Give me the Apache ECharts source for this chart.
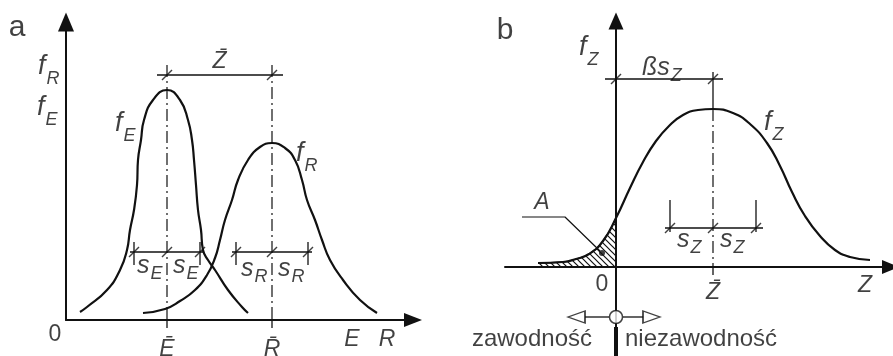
<!DOCTYPE html>
<html>
<head>
<meta charset="utf-8">
<script src="https://cdn.jsdelivr.net/npm/echarts@6/dist/echarts.min.js"></script>
<style>
  html, body { margin: 0; padding: 0; background: #fff; }
  #chart { width: 893px; height: 356px; }
</style>
</head>
<body>
<div id="chart"></div>
<script>
// ---------------- data ----------------
// Panel a: densities of load effect E and resistance R (arbitrary units)
const fE = [[14,8],[21,13],[41,30],[54,50],[61,70],[64,90],[68,110],[71,135],[72,160],[75,180],[78,200],[87,220],
            [101,230],[114,220],[122,200],[126,180],[128,160],[130,135],[132,110],[135,90],[137,70],[142,60],[149,50],[162,30],[176,13],[182,7]];
const fR = [[77,7],[99,11],[114,19],[129,30],[141,45],[149,62],[154,80],[159,100],[166,120],[172,140],[182,160],[194,173],
            [206,177],[219,172],[229,160],[236,140],[241,120],[249,100],[256,80],[264,60],[277,40],[294,20],[311,7]];
const meanE = 101, sdE = 33;
const meanR = 206, sdR = 36;

// Panel b: density of the safety margin Z = R - E
const fZ = [[-78,4],[-53,5],[-40,8],[-27,13],[-13,26],[0,49],[14,79],[27,105],[40,126],[53,141],[67,152],[82,157],
            [97,158],[117,154],[134,143],[151,124],[164,101],[176,75],[189,51],[204,31],[219,17],[234,10],[254,7]];
const meanZ = 97, sdZ = 43;

// ---------------- styling ----------------
const INK = '#111';
const FONT = '"Liberation Sans", Arial, Helvetica, sans-serif';
const DASHDOT = [12, 4, 2, 4];
const SMOOTH = 0.5;

const rich = {
  f:   { fontFamily: FONT, fontStyle: 'italic', fontSize: 27, color: INK },
  sub: { fontFamily: FONT, fontStyle: 'italic', fontSize: 18, color: INK, padding: [26, 0, 0, 1] },
  s:   { fontFamily: FONT, fontStyle: 'italic', fontSize: 25, color: INK },
  sub2:{ fontFamily: FONT, fontStyle: 'italic', fontSize: 18, color: INK, padding: [16, 0, 0, 1] },
  it:  { fontFamily: FONT, fontStyle: 'italic', fontSize: 23, color: INK },
  num: { fontFamily: FONT, fontSize: 23, color: INK },
  up:  { fontFamily: FONT, fontSize: 30, color: INK },
  w:   { fontFamily: FONT, fontSize: 24, color: INK }
};

const series = [];

function line(g, pts, o = {}) {
  const s = {
    type: 'line', xAxisIndex: g, yAxisIndex: g, data: pts,
    symbol: 'none', silent: true, clip: false, z: o.z || 3,
    smooth: o.smooth || false,
    lineStyle: { color: INK, width: o.w || 1.3, type: o.type || 'solid' }
  };
  if (o.area) s.areaStyle = o.area;
  series.push(s);
}

function slashes(g, pts) {
  series.push({
    type: 'scatter', xAxisIndex: g, yAxisIndex: g, data: pts, silent: true, clip: false, z: 4,
    symbol: 'path://M0,12L12,0', symbolSize: 10,
    itemStyle: { color: 'transparent', borderColor: INK, borderWidth: 1.4 }
  });
}

function notes(g, items) {
  series.push({
    type: 'scatter', xAxisIndex: g, yAxisIndex: g, silent: true, clip: false, z: 6,
    symbolSize: 1, itemStyle: { color: 'transparent' },
    label: { show: true, position: 'inside', verticalAlign: 'middle', rich, color: INK },
    data: items.map(([x, y, text, align]) => ({
      value: [x, y], label: { formatter: text, align: align || 'center' }
    }))
  });
}

// hatch pattern for the failure area
const hatch = document.createElement('canvas');
hatch.width = hatch.height = 6;
const hg = hatch.getContext('2d');
hg.strokeStyle = INK; hg.lineWidth = 1.2;
hg.beginPath();
hg.moveTo(-1, -1); hg.lineTo(7, 7);
hg.moveTo(5, -1); hg.lineTo(7, 1);
hg.moveTo(-1, 5); hg.lineTo(1, 7);
hg.stroke();

// ---------------- panel a ----------------
line(0, fE, { smooth: SMOOTH, w: 2.2 });
line(0, fR, { smooth: SMOOTH, w: 2.2 });
[meanE, meanR].forEach(m => {
  line(0, [[m, 255], [m, 0]], { type: DASHDOT, w: 1.2 });
  line(0, [[m, 0], [m, -8]], { w: 1.3 });
});
// mean distance
line(0, [[meanE - 10, 245], [meanR + 11, 245]]);
slashes(0, [[meanE, 245], [meanR, 245]]);
// standard deviations
[[meanE, sdE], [meanR, sdR]].forEach(([m, sd]) => {
  line(0, [[m - sd - 4, 68], [m + sd + 4, 68]]);
  line(0, [[m - sd, 78], [m - sd, 55]]);
  line(0, [[m + sd, 78], [m + sd, 55]]);
  slashes(0, [[m - sd, 68], [m, 68], [m + sd, 68]]);
});
notes(0, [
  [-49, 292, '{up|a}'],
  [-28, 254, '{f|f}{sub|R}', 'left'],
  [-29, 213, '{f|f}{sub|E}', 'left'],
  [49, 197, '{f|f}{sub|E}', 'left'],
  [230, 167, '{f|f}{sub|R}', 'left'],
  [(meanE + meanR) / 2, 258, '{it|Z\u0304}'],
  [meanE - 30, 54, '{s|s}{sub2|E}', 'left'],
  [meanE + 6, 54, '{s|s}{sub2|E}', 'left'],
  [meanR - 31, 51, '{s|s}{sub2|R}', 'left'],
  [meanR + 6, 51, '{s|s}{sub2|R}', 'left'],
  [-11, -15, '{num|0}'],
  [meanE, -30, '{it|\u0112}'],
  [meanR, -30, '{it|R\u0304}'],
  [286, -20, '{it|E}'],
  [321, -20, '{it|R}']
]);

// ---------------- panel b ----------------
line(1, fZ.filter(p => p[0] <= 0), {
  smooth: SMOOTH, w: 0, z: 2,
  area: { color: { image: hatch, repeat: 'repeat' }, opacity: 1 }
});
line(1, fZ, { smooth: SMOOTH, w: 2.2 });
const peakZ = Math.max(...fZ.map(p => p[1]));
line(1, [[meanZ, 195], [meanZ, peakZ]], { w: 1.3 });
line(1, [[meanZ, peakZ], [meanZ, 0]], { type: DASHDOT, w: 1.2 });
line(1, [[meanZ, 0], [meanZ, -8]], { w: 1.3 });
// reliability index times sd
line(1, [[-11, 188], [meanZ + 10, 188]]);
slashes(1, [[0, 188], [meanZ, 188]]);
// standard deviation of Z
line(1, [[meanZ - sdZ - 5, 39], [meanZ + sdZ + 7, 39]]);
line(1, [[meanZ - sdZ, 67], [meanZ - sdZ, 35]]);
line(1, [[meanZ + sdZ, 67], [meanZ + sdZ, 35]]);
slashes(1, [[meanZ - sdZ, 39], [meanZ, 39], [meanZ + sdZ, 39]]);
// leader to the failure area
line(1, [[-94, 50], [-51, 50], [-16, 16]], { w: 1.2 });
series.push({
  type: 'scatter', xAxisIndex: 1, yAxisIndex: 1, silent: true, z: 5,
  data: [[-14, 14]], symbolSize: 6, itemStyle: { color: INK }
});
// limit state marker below the axis
line(1, [[0, -60], [0, -89]], { w: 4 });
line(1, [[-7, -50], [-31, -50]], { w: 1.3 });
line(1, [[7, -50], [28, -50]], { w: 1.3 });
series.push({
  type: 'scatter', xAxisIndex: 1, yAxisIndex: 1, silent: true, z: 5,
  data: [
    { value: [0, -50], symbol: 'circle', symbolSize: 13 },
    { value: [-39.5, -50], symbol: 'triangle', symbolSize: [12, 17], symbolRotate: 90 },
    { value: [35.5, -50], symbol: 'triangle', symbolSize: [12, 17], symbolRotate: -90 }
  ],
  itemStyle: { color: '#fff', borderColor: INK, borderWidth: 1.5 }
});
notes(1, [
  [-111, 236, '{up|b}'],
  [-37, 220, '{f|f}{sub|Z}', 'left'],
  [26, 199, '{s|ßs}{sub2|Z}', 'left'],
  [148, 145, '{f|f}{sub|Z}', 'left'],
  [meanZ - 36, 27, '{s|s}{sub2|Z}', 'left'],
  [meanZ + 7, 27, '{s|s}{sub2|Z}', 'left'],
  [-74, 64, '{it|A}'],
  [-14, -18, '{num|0}'],
  [meanZ, -26, '{it|Z\u0304}'],
  [249, -19, '{it|Z}'],
  [-24, -72, '{w|zawodność}', 'right'],
  [9, -72, '{w|niezawodność}', 'left']
]);

// ---------------- axes ----------------
function axis(extra, arrow) {
  return Object.assign({
    type: 'value',
    axisLine: {
      show: true, onZero: true,
      symbol: ['none', 'triangle'], symbolSize: arrow,
      lineStyle: { color: INK, width: 2 }
    },
    axisTick: { show: false }, axisLabel: { show: false }, splitLine: { show: false }
  }, extra);
}

const chart = echarts.init(document.getElementById('chart'), null, { renderer: 'canvas' });
chart.setOption({
  animation: false,
  backgroundColor: '#fff',
  grid: [
    { left: 66, top: 22, width: 347, bottom: 36 },
    { left: 505, top: 21, right: 2.5, bottom: 0 }
  ],
  xAxis: [
    axis({ gridIndex: 0, min: 0, max: 347 }, [14, 18]),
    axis({ gridIndex: 1, min: -111, max: 274.5 }, [14, 17])
  ],
  yAxis: [
    axis({ gridIndex: 0, min: 0, max: 298 }, [16, 19]),
    axis({ gridIndex: 1, min: -89, max: 246 }, [15, 17])
  ],
  series
});
</script>
</body>
</html>
